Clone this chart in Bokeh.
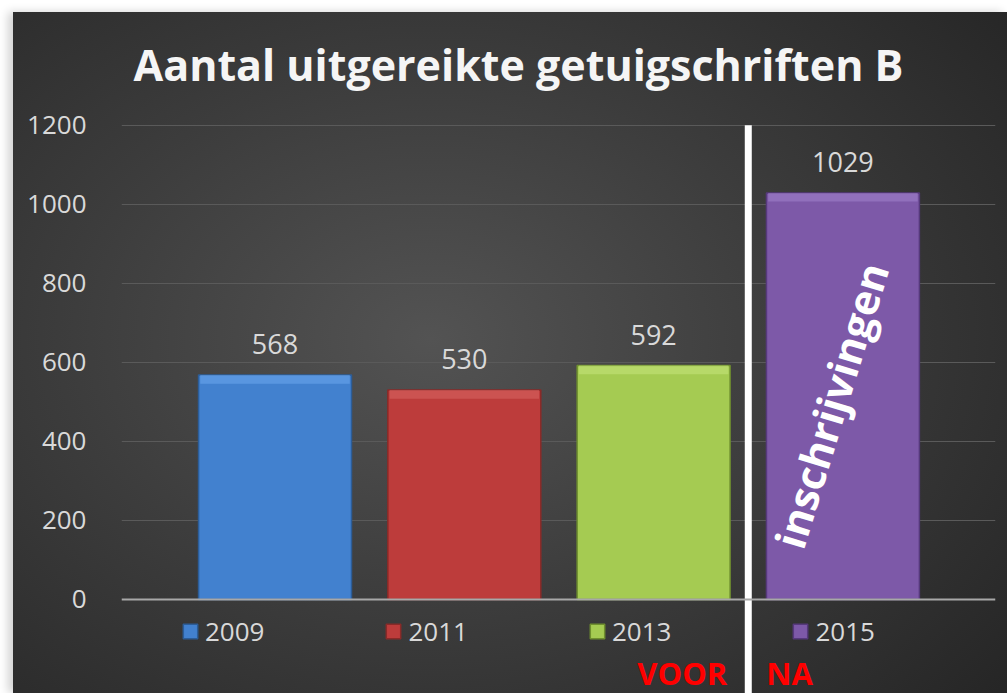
from bokeh.plotting import figure
from bokeh.models import Range1d, FixedTicker, Span, Label, Legend, LegendItem, ColumnDataSource
from bokeh.core.properties import value
from bokeh.embed import file_html
from bokeh.resources import INLINE

# ---- data ----
years = ["2009", "2011", "2013", "2015"]
counts = [568, 530, 592, 1029]
bar_colors = ["#4281cf", "#bd3c3b", "#a5cb52", "#7d59a8"]
top_colors = ["#6ea8ee", "#d96664", "#c6e67c", "#a283cc"]
edge_colors = ["#2c5d98", "#8a2a28", "#6f8f2e", "#56397c"]
y_ticks = [0, 200, 400, 600, 800, 1000, 1200]
title_text = "Aantal uitgereikte getuigschriften B"
before_text = "VOOR"
after_text = "NA"
note_text = "inschrijvingen"

xs = list(range(len(years)))
divider_x = (years.index("2013") + years.index("2015")) / 2

FONT = "Open Sans"
LIGHT = "#d9d9d9"

p = figure(width=994, height=681,
           x_range=Range1d(-0.811, 3.806), y_range=Range1d(-238, 1230),
           output_backend="svg", toolbar_location=None, x_axis_location=None,
           min_border_left=108, min_border_right=12, min_border_bottom=0, min_border_top=101,
           title=title_text)
p.margin = (12, 0, 0, 13)
p.styles = {"background": "radial-gradient(ellipse 75% 80% at 42% 48%, #535353 0%, #3c3c3c 50%, #262626 100%)",
            "box-shadow": "-5px 0px 9px rgba(0,0,0,0.18)"}
p.background_fill_alpha = 0
p.border_fill_alpha = 0
p.outline_line_color = None

p.title.text_font = FONT
p.title.text_font_size = "43px"
p.title.text_font_style = "bold"
p.title.text_color = "#f5f5f5"
p.title.align = "left"
p.title.offset = 12
p.title.standoff = 40

# axes / grid
p.yaxis.ticker = FixedTicker(ticks=y_ticks)
p.yaxis.axis_line_color = None
p.yaxis.major_tick_line_color = None
p.yaxis.minor_tick_line_color = None
p.yaxis.major_label_standoff = 29
p.yaxis.major_label_text_font = FONT
p.yaxis.major_label_text_font_size = "26px"
p.yaxis.major_label_text_color = LIGHT
p.xgrid.visible = False
p.ygrid.ticker = FixedTicker(ticks=[t for t in y_ticks if t > 0])
p.ygrid.grid_line_color = "#5a5a5a"
p.ygrid.grid_line_width = 1

src = ColumnDataSource(dict(x=xs, top=counts, color=bar_colors, top_color=top_colors,
                            edge=edge_colors, year=years, label=[str(c) for c in counts],
                            hl=[c - 22 for c in counts], mid=[c / 2 for c in counts]))

bars = p.vbar(x="x", top="top", bottom=0, width=0.808, source=src,
              fill_color="color", line_color="edge", line_width=1.5)
p.vbar(x="x", top="top", bottom="hl", width=0.79, source=src,
       fill_color="top_color", line_color=None, fill_alpha=0.55)

# zero line
p.add_layout(Span(location=0, dimension="width", line_color="#a8a8a8", line_width=2))

# value labels
p.text(x="x", y="top", text="label", source=src, text_align="center", text_baseline="alphabetic",
       y_offset=-31, text_font=value(FONT), text_font_size="27px", text_color=LIGHT)

# rotated note on 2015 bar
note_src = ColumnDataSource(dict(x=[xs[-1]], y=[counts[-1] / 2], t=[note_text]))
p.text(x="x", y="y", text="t", source=note_src, angle=1.274, text_align="center",
       text_baseline="middle", x_offset=-12, y_offset=9, text_font=value(FONT),
       text_font_size="42px", text_font_style="bold", text_color="white")

# divider
p.segment(x0=[divider_x], y0=[y_ticks[-1]], x1=[divider_x], y1=[-238],
          line_color="white", line_width=7)

# VOOR / NA
p.add_layout(Label(x=divider_x, y=0, y_units="screen", x_offset=-21, text=before_text,
                   text_align="right", text_baseline="bottom", text_font=FONT,
                   text_font_size="31px", text_font_style="bold", text_color="#ff0000"))
p.add_layout(Label(x=divider_x, y=0, y_units="screen", x_offset=18, text=after_text,
                   text_align="left", text_baseline="bottom", text_font=FONT,
                   text_font_size="31px", text_font_style="bold", text_color="#ff0000"))

# legend
items = [LegendItem(label=y, renderers=[bars], index=i) for i, y in enumerate(years)]
legend = Legend(items=items, orientation="horizontal", location=(60, 44),
                glyph_width=18, glyph_height=18, label_standoff=6, spacing=120,
                label_text_font=FONT, label_text_font_size="26px", label_text_color=LIGHT,
                background_fill_alpha=0, border_line_color=None, padding=0, margin=0)
p.add_layout(legend, "center")

open("out.html", "w").write(file_html(p, INLINE))
